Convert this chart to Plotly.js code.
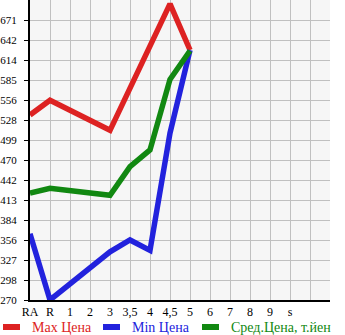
<!DOCTYPE html>
<html><head><meta charset="utf-8">
<script src="https://cdn.plot.ly/plotly-3.0.1.min.js"></script>
<style>html,body{margin:0;padding:0;background:#fff}#c{width:345px;height:335px}</style>
</head><body><div id="c"></div>
<script>
const categories = ['RA','R','1','2','3','3,5','4','4,5','5','6','7','8','9','s','',''];
const maxCats = ['RA','R','3','4,5','5'];
const maxVals = [535, 556, 513, 694, 628];
const minCats = ['RA','R','3','3,5','4','4,5','5'];
const minVals = [365, 270, 339, 356, 341, 509, 628];
const avgCats = ['RA','R','3','3,5','4','4,5','5'];
const avgVals = [423, 430, 420, 461, 485, 586, 627];
const yTickLabels = ['270','298','327','356','384','413','442','470','499','528','556','585','614','642','671'];
const seriesNames = ['Max Цена','Min Цена','Сред.Цена, т.йен'];
const colors = ['#dd2222','#2222dd','#118811'];

const yMin = 270, yStep = 401/14;
const yTickVals = yTickLabels.map((_, i) => yMin + i * yStep);
const idx = c => categories.indexOf(c);

const mk = (cats, vals, i) => ({
  x: cats.map(idx), y: vals, type: 'scatter', mode: 'lines',
  name: seriesNames[i], showlegend: false,
  line: {color: colors[i], width: 5.5}, hoverinfo: 'skip'
});
const data = [mk(maxCats, maxVals, 0), mk(minCats, minVals, 1), mk(avgCats, avgVals, 2)];

// legend drawn in paper space (plot area: 300px wide starting at 30px, 300px tall)
const PW = 300, PL = 30, PH = 300;
const px = v => (v - PL) / PW, py = v => (PH - v) / PH;
const legX = [3, 103, 202];
const legendShapes = colors.map((c, i) => ({
  type: 'line', xref: 'paper', yref: 'paper',
  x0: px(legX[i]), x1: px(legX[i] + 17), y0: py(327), y1: py(327),
  line: {color: c, width: 6}
}));
const legendAnn = seriesNames.map((n, i) => ({
  xref: 'paper', yref: 'paper', x: px(legX[i] + 27), y: py(327.5),
  xanchor: 'left', yanchor: 'middle', showarrow: false,
  text: n, font: {size: 14, color: colors[i]}
}));

const layout = {
  width: 345, height: 335,
  margin: {l: 30, r: 15, t: 0, b: 35, pad: 0},
  paper_bgcolor: '#ffffff', plot_bgcolor: '#f6f6f6',
  font: {family: '"Liberation Serif", "DejaVu Serif", serif', size: 12, color: '#000'},
  showlegend: false,
  shapes: legendShapes,
  annotations: legendAnn,
  xaxis: {
    type: 'linear', range: [0, categories.length - 1],
    tickvals: categories.map((_, i) => i), ticktext: categories,
    showgrid: true, gridcolor: '#c0c0c0', gridwidth: 1,
    showline: true, linecolor: '#000', linewidth: 2,
    ticks: '', zeroline: false, fixedrange: true,
    tickfont: {size: 12}
  },
  yaxis: {
    range: [yMin, yMin + 15 * yStep],
    tickvals: yTickVals, ticktext: yTickLabels,
    showgrid: true, gridcolor: '#c0c0c0', gridwidth: 1,
    showline: true, linecolor: '#000', linewidth: 2,
    ticks: 'outside', ticklen: 4, tickcolor: '#000', tickwidth: 1,
    ticklabelstandoff: 5,
    zeroline: false, fixedrange: true, tickfont: {size: 11}
  }
};
Plotly.newPlot('c', data, layout, {staticPlot: true, displayModeBar: false});
</script></body></html>
